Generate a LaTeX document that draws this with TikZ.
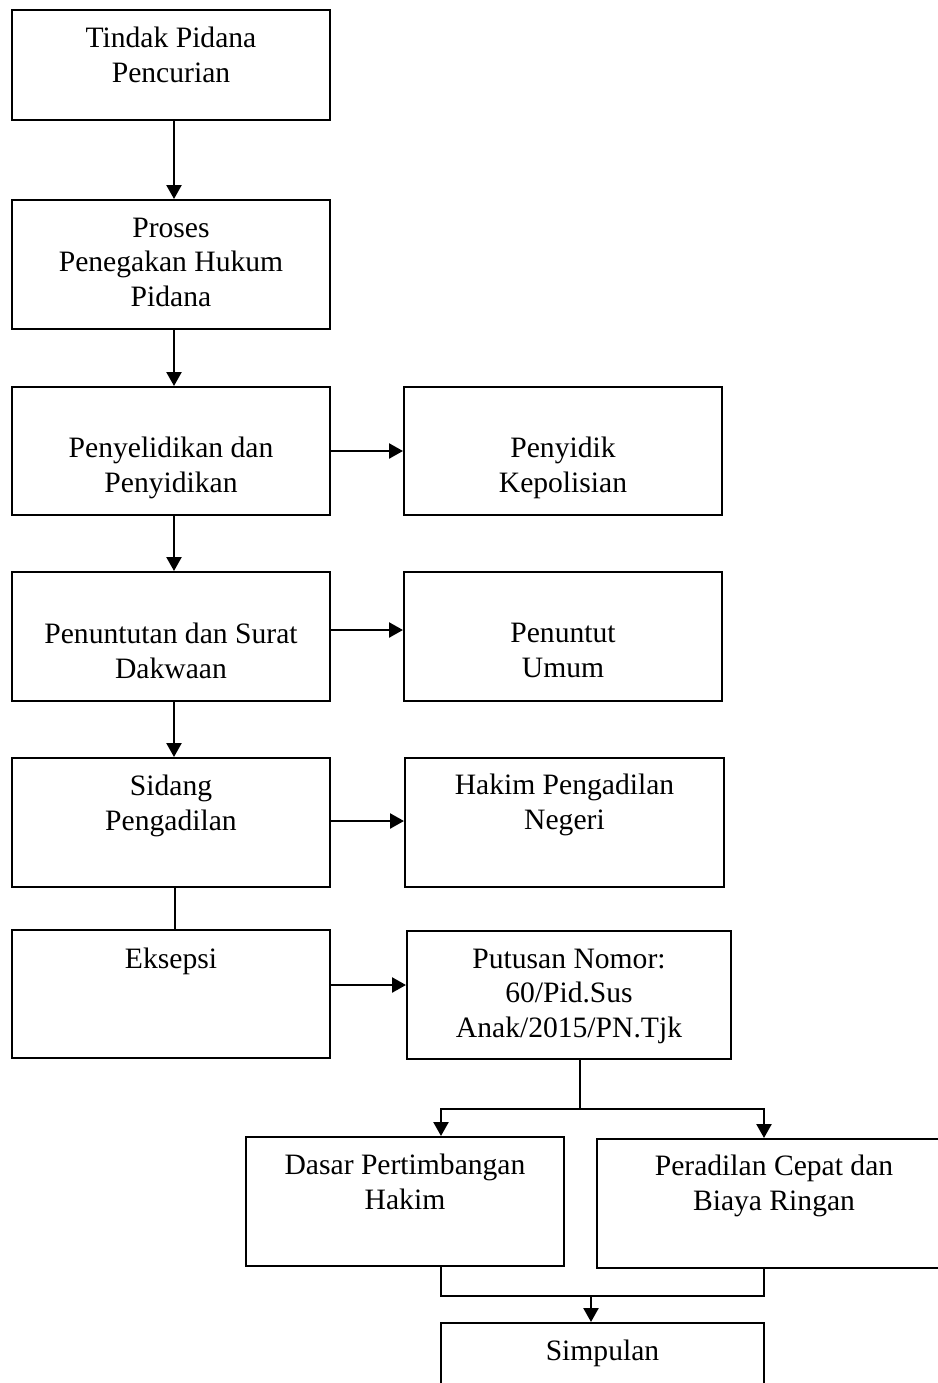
\documentclass[tikz,border=0pt]{standalone}
\usepackage{fontspec}
\setmainfont{Liberation Serif}
\usetikzlibrary{arrows.meta}
\begin{document}
\begin{tikzpicture}[x=0.5pt,y=-0.5pt,
  box/.style={draw,line width=1pt,inner sep=0pt,rectangle},
  txt/.style={align=center,font=\fontsize{14.8pt}{17.25pt}\selectfont,inner sep=0pt,anchor=base},
  arr/.style={line width=1.2pt,-{Triangle[length=7pt,width=7.5pt]}},
  ln/.style={line width=0.8pt}]
\useasboundingbox (0,0) rectangle (938,1383);
% boxes
\node[box,minimum width=159pt,minimum height=55pt]   (b1)  at (171,65) {};
\node[box,minimum width=159pt,minimum height=64.5pt] (b2)  at (171,264.5) {};
\node[box,minimum width=159pt,minimum height=64pt]   (b3)  at (171,451) {};
\node[box,minimum width=159pt,minimum height=64pt]   (b4)  at (563,451) {};
\node[box,minimum width=159pt,minimum height=64.5pt] (b5)  at (171,636.5) {};
\node[box,minimum width=159pt,minimum height=64.5pt] (b6)  at (563,636.5) {};
\node[box,minimum width=159pt,minimum height=64.5pt] (b7)  at (171,822.5) {};
\node[box,minimum width=159.5pt,minimum height=64.5pt] (b8) at (564.5,822.5) {};
\node[box,minimum width=159pt,minimum height=64pt]   (b9)  at (171,994) {};
\node[box,minimum width=162pt,minimum height=64pt]   (b10) at (569,995) {};
\node[box,minimum width=159pt,minimum height=64.5pt] (b11) at (405,1201.5) {};
\node[box,minimum width=177pt,minimum height=64.5pt] (b12) at (774,1203.5) {};
\node[box,minimum width=161.5pt,minimum height=43.5pt] (b13) at (602.5,1366.5) {};
% texts (anchored at the baseline of their last line)
\node[txt] (t1)  at (171,82)    {Tindak Pidana\\Pencurian};
\node[txt] (t2)  at (171,306)   {Proses\\Penegakan Hukum\\Pidana};
\node[txt] (t3)  at (171,492)   {Penyelidikan dan\\Penyidikan};
\node[txt] (t4)  at (563,492)   {Penyidik\\Kepolisian};
\node[txt] (t5)  at (171,678)   {Penuntutan dan Surat\\Dakwaan};
\node[txt] (t6)  at (563,677)   {Penuntut\\Umum};
\node[txt] (t7)  at (171,830)   {Sidang\\Pengadilan};
\node[txt] (t8)  at (564.5,829) {Hakim Pengadilan\\Negeri};
\node[txt] (t9)  at (171,968)   {Eksepsi};
\node[txt] (t10) at (569,1037)  {Putusan Nomor:\\60/Pid.Sus\\Anak/2015/PN.Tjk};
\node[txt] (t11) at (405,1209)  {Dasar Pertimbangan\\Hakim};
\node[txt] (t12) at (774,1210)  {Peradilan Cepat dan\\Biaya Ringan};
\node[txt] (t13) at (602.5,1360) {Simpulan};
% connectors
\draw[arr] ([xshift=1.5pt]b1.south) -- ([xshift=1.5pt]b2.north);
\draw[arr] ([xshift=1.5pt]b2.south) -- ([xshift=1.5pt]b3.north);
\draw[arr] ([xshift=1.5pt]b3.south) -- ([xshift=1.5pt]b5.north);
\draw[arr] ([xshift=1.5pt]b5.south) -- ([xshift=1.5pt]b7.north);
\draw[ln]  ([xshift=2pt]b7.south) -- ([xshift=2pt]b9.north);
\draw[arr] (b3.east) -- (b4.west);
\draw[arr] ([yshift=3.25pt]b5.east) -- ([yshift=3.25pt]b6.west);
\draw[arr] ([yshift=0.75pt]b7.east) -- ([yshift=0.75pt]b8.west);
\draw[arr] ([yshift=4.5pt]b9.east) -- ([yshift=4.5pt]b9.east -| b10.west);
\coordinate (s1) at (580,1109);
\draw[ln] ([xshift=5.5pt]b10.south) -- (s1);
\draw[arr] (s1) -| ([xshift=18pt]b11.north);
\draw[arr] (s1) -| ([xshift=-5pt]b12.north);
\coordinate (j) at (591,1296);
\draw[ln] ([xshift=18pt]b11.south) |- (j) -| ([xshift=-5pt]b12.south);
\draw[arr] (j) -- (j |- b13.north);
\end{tikzpicture}
\end{document}
